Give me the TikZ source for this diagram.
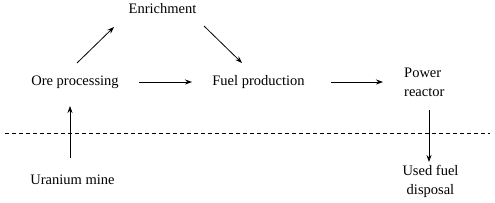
\documentclass[tikz,border=0pt]{standalone}
\usepackage{fontspec}
\setmainfont{Liberation Serif}
\usetikzlibrary{arrows.meta}
\begin{document}
\begin{tikzpicture}[x=1pt,y=1pt,
  lbl/.style={inner sep=0pt,font=\fontsize{14.5}{19}\selectfont},
  arr/.style={line width=0.8pt,-{Stealth[length=7pt,width=5pt]}},
  sep/.style={line width=0.8pt,dash pattern=on 4pt off 3pt}]
\useasboundingbox (0,0) rectangle (495,203);
\node[lbl,anchor=base] (enrich) at (162.5,189) {Enrichment};
\node[lbl,anchor=base] (ore) at (75,117) {Ore processing};
\node[lbl,anchor=base] (fuel) at (258.5,117) {Fuel production};
\node[lbl,anchor=base west,align=left] (power) at (404,106) {Power\\reactor};
\node[lbl,anchor=base] (mine) at (72.5,18) {Uranium mine};
\node[lbl,anchor=base,align=center] (used) at (430.5,8) {Used fuel\\disposal};
\coordinate (sepL) at (5,70);
\coordinate (sepR) at (490,70);
\draw[sep] (sepL) -- (sepR);
\draw[arr] ([shift={(2,23)}]ore.base) -- ([shift={(-48.5,-13)}]enrich.base);
\draw[arr] ([shift={(41.5,-12)}]enrich.base) -- ([shift={(-16.5,23)}]fuel.base);
\draw[arr] ([shift={(64,4)}]ore.base) -- ([shift={(-66.5,4)}]fuel.base);
\draw[arr] ([shift={(72.5,4)}]fuel.base) -- ([shift={(-21,15)}]power.base west);
\draw[arr] ([shift={(-2.5,27)}]mine.base) -- ([shift={(-5,-20)}]ore.base);
\draw[arr] ([shift={(25,-13)}]power.base west) -- ([shift={(-1.5,33)}]used.base);
\end{tikzpicture}
\end{document}
